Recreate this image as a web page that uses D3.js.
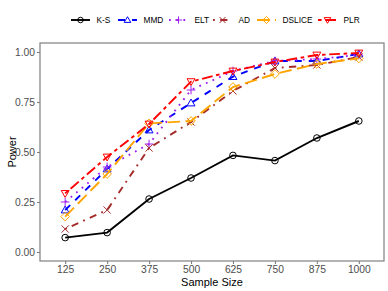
<!DOCTYPE html>
<html>
<head>
<meta charset="utf-8">
<script src="https://cdn.jsdelivr.net/npm/d3@7"></script>
<style>
  body { margin: 0; background: #fff; }
  text { font-family: "Liberation Sans", Arial, sans-serif; }
</style>
</head>
<body>
<svg id="svg" width="388" height="291"></svg>
<script>
const sampleSizes = ['125', '250', '375', '500', '625', '750', '875', '1000']
const methods = ['K-S', 'MMD', 'ELT', 'AD', 'DSLICE', 'PLR']

const ks = [0.072, 0.097, 0.265, 0.37, 0.483, 0.457, 0.57, 0.655]
const mmd = [0.21, 0.415, 0.61, 0.745, 0.877, 0.955, 0.955, 0.99]
const elt = [0.25, 0.425, 0.54, 0.81, 0.905, 0.955, 0.965, 0.985]
const ad = [0.115, 0.21, 0.52, 0.65, 0.805, 0.92, 0.935, 0.975]
const dslice = [0.177, 0.39, 0.643, 0.655, 0.825, 0.89, 0.94, 0.968]
const plr = [0.293, 0.475, 0.64, 0.852, 0.905, 0.95, 0.985, 0.995]

const yTicks = [0, 0.25, 0.5, 0.75, 1]

const series = [ks, mmd, elt, ad, dslice, plr]
const colors = ['#000000', '#0000FF', '#A020F0', '#A52A2A', '#FFA500', '#FF0000']
const dashes = ['', '7,7', '1.8,5.4', '1.8,5.4,7.2,5.4', '12.6,5.4', '3.6,3.6,10.8,3.6']
const shapes = ['circle', 'triangle', 'plus', 'cross', 'diamond', 'tridown']

const svg = d3.select('#svg')
const panel = { left: 40, right: 384, top: 43, bottom: 261 }

const x = d3.scalePoint()
    .domain(sampleSizes)
    .range([panel.left, panel.right])
    .padding(0.6)

const y = d3.scaleLinear()
    .domain([0, 1])
    .range([252, 52])

// panel border
svg.append('rect')
    .attr('x', panel.left).attr('y', panel.top)
    .attr('width', panel.right - panel.left)
    .attr('height', panel.bottom - panel.top)
    .attr('fill', 'none')
    .attr('stroke', '#7f7f7f')
    .attr('stroke-width', 1.2)

// axes
const yAxis = d3.axisLeft(y).tickValues(yTicks).tickFormat(d3.format('.2f')).tickSize(3).tickPadding(2)
const gy = svg.append('g').attr('transform', `translate(${panel.left},0)`).call(yAxis)
const xAxis = d3.axisBottom(x).tickSize(3).tickPadding(2)
const gx = svg.append('g').attr('transform', `translate(0,${panel.bottom})`).call(xAxis)

;[gx, gy].forEach(g => {
    g.select('.domain').remove()
    g.selectAll('.tick line').attr('stroke', '#7f7f7f').attr('stroke-width', 1.1)
    g.selectAll('.tick text').attr('fill', '#4D4D4D').attr('font-size', '10.3px')
        .style('font-family', '"Liberation Sans", Arial, sans-serif')
})

svg.append('text').text('Sample Size')
    .attr('x', (panel.left + panel.right) / 2).attr('y', 285.5)
    .attr('text-anchor', 'middle').attr('font-size', '11px')

svg.append('text').text('Power')
    .attr('transform', `translate(16,${(panel.top + panel.bottom) / 2}) rotate(-90)`)
    .attr('text-anchor', 'middle').attr('font-size', '11px')

function drawShape(g, shape, cx, cy, color, s) {
    const common = sel => sel.attr('fill', 'none').attr('stroke', color).attr('stroke-width', 1)
    if (shape === 'circle') {
        g.append('circle').attr('cx', cx).attr('cy', cy).attr('r', s * 0.92).call(common)
    } else if (shape === 'triangle') {
        g.append('path').attr('d', `M${cx},${cy - s * 1.1}L${cx + s * 1.1},${cy + s * 0.8}L${cx - s * 1.1},${cy + s * 0.8}Z`).call(common)
    } else if (shape === 'tridown') {
        g.append('path').attr('d', `M${cx},${cy + s * 1.1}L${cx + s * 1.1},${cy - s * 0.8}L${cx - s * 1.1},${cy - s * 0.8}Z`).call(common)
    } else if (shape === 'plus') {
        g.append('path').attr('d', `M${cx - s * 1.2},${cy}H${cx + s * 1.2}M${cx},${cy - s * 1.2}V${cy + s * 1.2}`).call(common)
    } else if (shape === 'cross') {
        g.append('path').attr('d', `M${cx - s},${cy - s}L${cx + s},${cy + s}M${cx - s},${cy + s}L${cx + s},${cy - s}`).call(common)
    } else if (shape === 'diamond') {
        g.append('path').attr('d', `M${cx},${cy - s * 1.2}L${cx + s * 1.2},${cy}L${cx},${cy + s * 1.2}L${cx - s * 1.2},${cy}Z`).call(common)
    }
}

const line = d3.line()
    .x((d, i) => x(sampleSizes[i]))
    .y(d => y(d))

series.forEach((vals, k) => {
    const g = svg.append('g')
    g.append('path')
        .datum(vals)
        .attr('d', line)
        .attr('fill', 'none')
        .attr('stroke', colors[k])
        .attr('stroke-width', 1.9)
        .attr('stroke-dasharray', dashes[k])
    vals.forEach((v, i) => drawShape(g, shapes[k], x(sampleSizes[i]), y(v), colors[k], 3.6))
})

// legend
const legendX = [71, 118, 169, 213, 257, 318]
methods.forEach((m, k) => {
    const g = svg.append('g').attr('transform', `translate(${legendX[k]},20)`)
    g.append('line').attr('x1', 0).attr('x2', 19).attr('y1', 0).attr('y2', 0)
        .attr('stroke', colors[k]).attr('stroke-width', 1.9)
        .attr('stroke-dasharray', dashes[k])
    drawShape(g, shapes[k], 9.5, 0, colors[k], 3)
    g.append('text').text(m).attr('x', 25.5).attr('y', 3)
        .attr('font-size', '8.3px').attr('fill', '#000')
})
</script>
</body>
</html>
